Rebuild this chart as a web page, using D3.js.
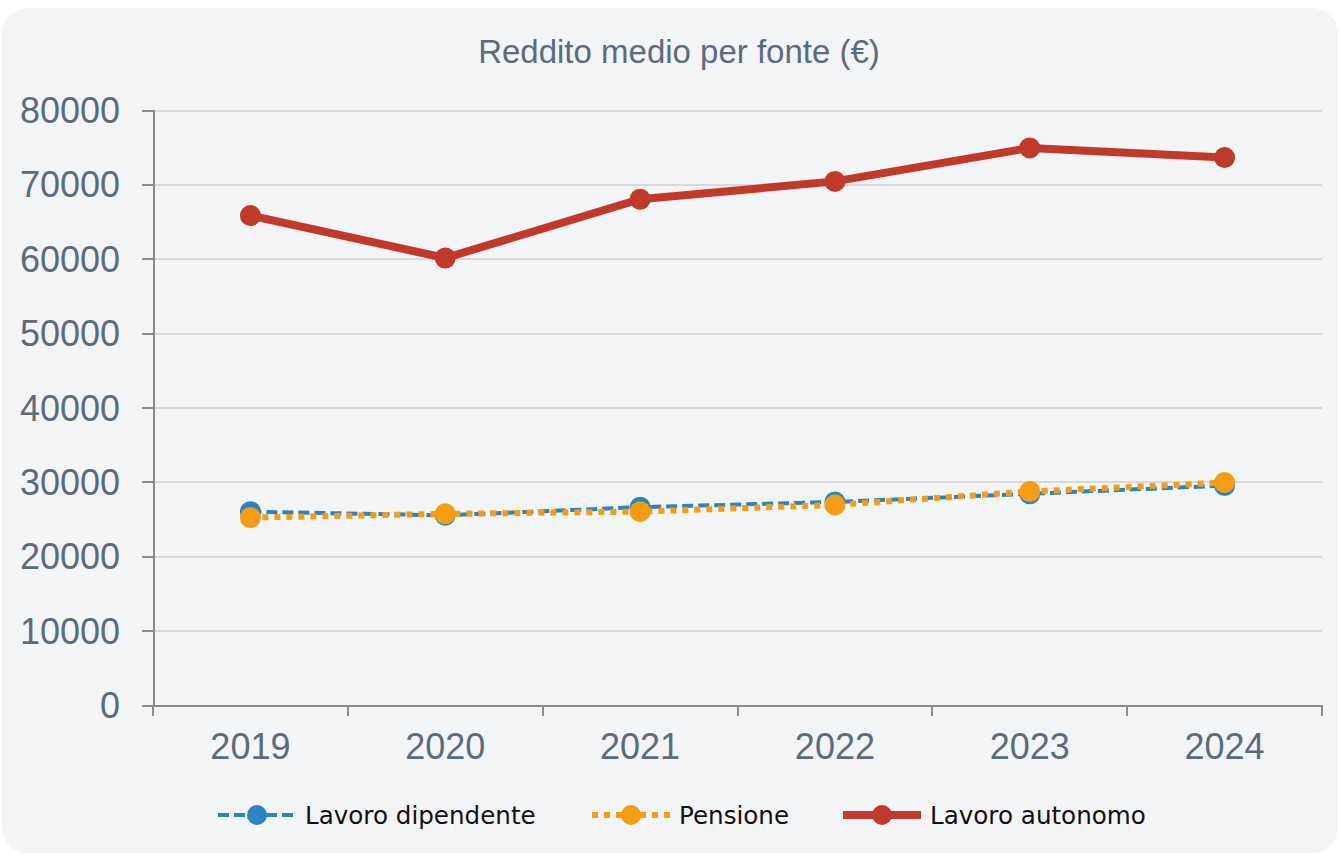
<!DOCTYPE html>
<html lang="it">
  <head>
    <meta charset="UTF-8" />
    <title>Reddito medio per fonte</title>
    <script src="https://d3js.org/d3.v7.min.js"></script>
    <style>
      body {
        margin: 0;
        background: #ffffff;
      }
      .axis path,
      .axis line {
        stroke: #8c8c8c;
        stroke-width: 2px;
        shape-rendering: crispEdges;
      }
      .axis text {
        font-family: 'Liberation Sans', Arial, sans-serif;
        font-size: 36px;
        fill: #5b6b7e;
      }
      .grid line {
        stroke: #d9d9db;
        stroke-width: 2px;
        shape-rendering: crispEdges;
      }
    </style>
  </head>
  <body>
    <div id="chart-container"></div>

    <script>
      // dati
      const years = ['2019', '2020', '2021', '2022', '2023', '2024'];
      const lavoroDipendente = [26000, 25500, 26600, 27300, 28400, 29500];
      const pensione = [25200, 25700, 26000, 26900, 28700, 29900];
      const lavoroAutonomo = [65800, 60100, 68000, 70400, 74900, 73600];
      const yTicks = [0, 10000, 20000, 30000, 40000, 50000, 60000, 70000, 80000];

      const series = [
        { name: 'Lavoro dipendente', values: lavoroDipendente, color: '#2b84c0', width: 4, dash: '11,5' },
        { name: 'Pensione', values: pensione, color: '#f39c14', width: 6, dash: '6,6' },
        { name: 'Lavoro autonomo', values: lavoroAutonomo, color: '#c0392b', width: 8, dash: null },
      ];

      const svgWidth = 1341;
      const svgHeight = 855;
      const margin = { top: 110, right: 19, bottom: 150, left: 153 };
      const width = svgWidth - margin.left - margin.right;
      const height = svgHeight - margin.top - margin.bottom;

      const root = d3
        .select('#chart-container')
        .append('svg')
        .attr('width', svgWidth)
        .attr('height', svgHeight);

      // card di sfondo
      root
        .append('rect')
        .attr('x', 2)
        .attr('y', 8)
        .attr('width', 1336)
        .attr('height', 845)
        .attr('rx', 26)
        .attr('fill', '#f3f4f6');

      root
        .append('text')
        .attr('x', 679)
        .attr('y', 63)
        .attr('text-anchor', 'middle')
        .style('font-family', "'Liberation Sans', Arial, sans-serif")
        .style('font-size', '33px')
        .style('fill', '#5b6b7e')
        .text('Reddito medio per fonte (€)');

      const svg = root
        .append('g')
        .attr('transform', `translate(${margin.left},${margin.top})`);

      const x = d3.scaleBand().domain(years).range([0, width]);
      const y = d3.scaleLinear().domain([0, 80000]).range([height, 0]);

      // griglia
      svg
        .append('g')
        .attr('class', 'grid')
        .call(d3.axisLeft(y).tickValues(yTicks.slice(1)).tickSize(-width).tickFormat(''))
        .call((g) => g.select('.domain').remove());

      // assi
      svg
        .append('g')
        .attr('class', 'axis')
        .call(d3.axisLeft(y).tickValues(yTicks).tickSize(11).tickPadding(22).tickFormat(d3.format('d')))
        .call((g) => g.selectAll('text').attr('dy', '0.35em'));

      const xAxis = svg
        .append('g')
        .attr('class', 'axis')
        .attr('transform', `translate(0,${height})`)
        .call(d3.axisBottom(x).tickSize(0).tickPadding(28));

      xAxis
        .selectAll('.boundary')
        .data(years.concat(['end']))
        .enter()
        .append('line')
        .attr('class', 'boundary')
        .attr('x1', (d, i) => i * x.step())
        .attr('x2', (d, i) => i * x.step())
        .attr('y1', 0)
        .attr('y2', 11);

      const line = d3
        .line()
        .x((d, i) => x(years[i]) + x.bandwidth() / 2)
        .y((d) => y(d));

      series.forEach(function (s) {
        svg
          .append('path')
          .datum(s.values)
          .attr('fill', 'none')
          .attr('stroke', s.color)
          .attr('stroke-width', s.width)
          .attr('stroke-dasharray', s.dash)
          .attr('d', line);

        svg
          .selectAll(null)
          .data(s.values)
          .enter()
          .append('circle')
          .attr('cx', (d, i) => x(years[i]) + x.bandwidth() / 2)
          .attr('cy', (d) => y(d))
          .attr('r', 10.5)
          .attr('fill', s.color);
      });

      // legenda
      const legendX = [218, 592, 843];
      const legend = root
        .selectAll('.legend')
        .data(series)
        .enter()
        .append('g')
        .attr('class', 'legend')
        .attr('transform', (d, i) => `translate(${legendX[i]},815)`);

      legend
        .append('line')
        .attr('x1', 0)
        .attr('x2', 78)
        .attr('stroke', (d) => d.color)
        .attr('stroke-width', (d) => d.width)
        .attr('stroke-dasharray', (d) => d.dash);

      legend
        .append('circle')
        .attr('cx', 39)
        .attr('r', 10)
        .attr('fill', (d) => d.color);

      legend
        .append('text')
        .attr('x', 87)
        .attr('dy', '0.35em')
        .style('font-family', "'DejaVu Sans', sans-serif")
        .style('font-size', '24.6px')
        .style('fill', '#111')
        .text((d) => d.name);
    </script>
  </body>
</html>
